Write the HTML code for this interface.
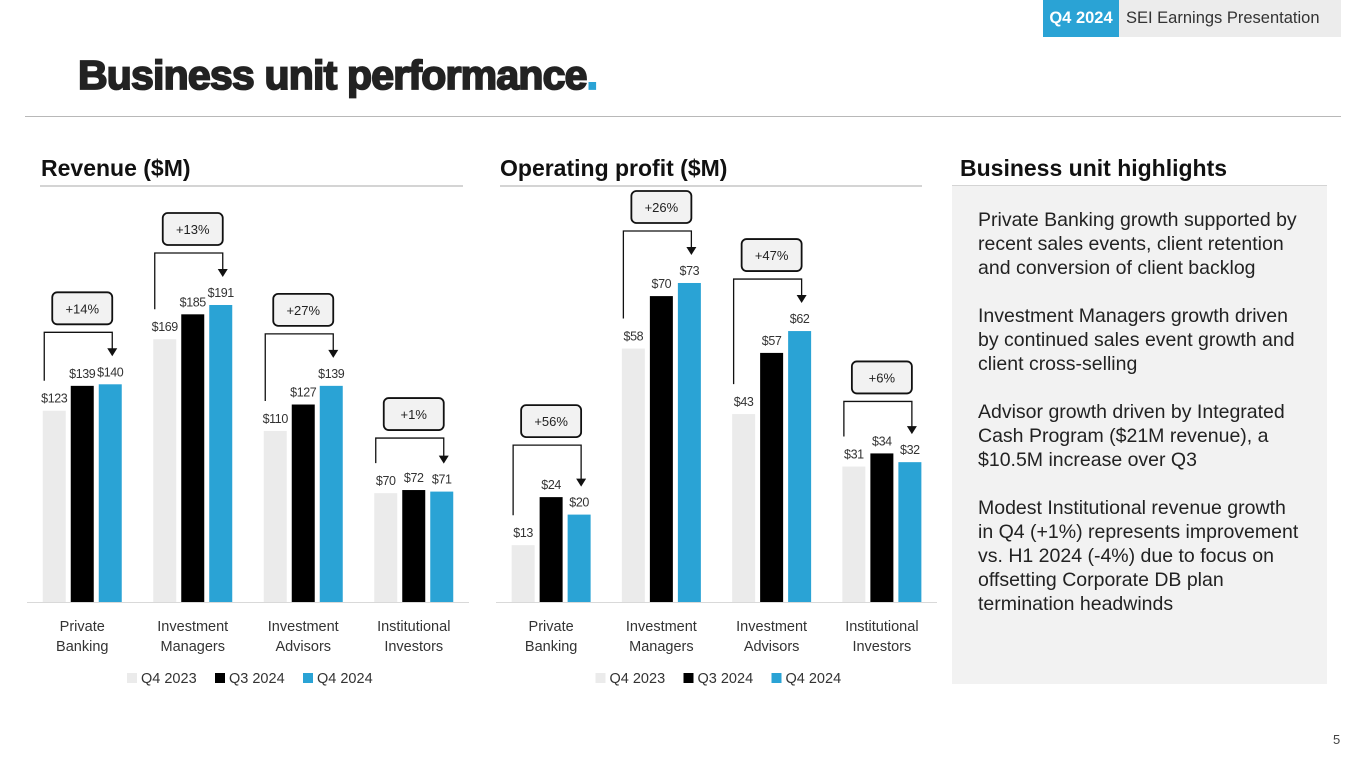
<!DOCTYPE html>
<html><head><meta charset="utf-8">
<style>
body{margin:0;width:1365px;height:768px;background:#fff;font-family:"Liberation Sans",sans-serif;position:relative;overflow:hidden;color:#222}
.abs{position:absolute}
#hdr{left:1043px;top:0;width:298px;height:37px;background:#ececec;font-size:16.5px}
#hdr .q{position:absolute;left:0;top:0;width:76px;height:37px;background:#2aa3d5;color:#fff;font-weight:bold;line-height:37px;text-align:center}
#hdr .t{position:absolute;left:83px;top:0;line-height:37px;color:#333}
#title{left:78px;top:52px;font-size:41px;font-weight:bold;letter-spacing:-0.8px;-webkit-text-stroke:1.8px #222;color:#222}
.sec{font-size:23px;font-weight:bold;color:#111;top:155px}
.line{height:2px;background:#d4d4d4}
#panel{left:952px;top:186px;width:375px;height:498px;background:#f2f2f2}
#panel p{margin:0 0 24px 0;font-size:19.5px;line-height:24px;color:#222;position:relative;left:26px;top:22px;width:328px}
</style></head><body>
<div id="hdr" class="abs"><div class="q">Q4 2024</div><div class="t">SEI Earnings Presentation</div></div>
<div id="title" class="abs">Business unit performance<span style="color:#2aa3d5;-webkit-text-stroke:1.8px #2aa3d5">.</span></div>
<div class="abs line" style="left:25px;top:116px;width:1316px;height:1px;background:#b8b8b8"></div>
<div class="abs sec" style="left:41px">Revenue ($M)</div>
<div class="abs line" style="left:40px;top:185px;width:423px"></div>
<div class="abs sec" style="left:500px">Operating profit ($M)</div>
<div class="abs line" style="left:500px;top:185px;width:422px"></div>
<div class="abs sec" style="left:960px">Business unit highlights</div>
<div class="abs line" style="left:952px;top:185px;width:375px"></div>
<div id="panel" class="abs">
<p>Private Banking growth supported by recent sales events, client retention and conversion of client backlog</p>
<p>Investment Managers growth driven by continued sales event growth and client cross-selling</p>
<p>Advisor growth driven by Integrated Cash Program ($21M revenue), a $10.5M increase over Q3</p>
<p>Modest Institutional revenue growth in Q4 (+1%) represents improvement vs. H1 2024 (-4%) due to focus on offsetting Corporate DB plan termination headwinds</p>
</div>
<div class="abs" style="left:1333px;top:732px;font-size:13px;color:#444">5</div>
<svg class="abs" style="left:0;top:0" width="1365" height="768" id="charts"></svg>
<script>
const categories=[["Private","Banking"],["Investment","Managers"],["Investment","Advisors"],["Institutional","Investors"]];
const seriesNames=["Q4 2023","Q3 2024","Q4 2024"];
const revQ423=[123,169,110,70];
const revQ324=[139,185,127,72];
const revQ424=[140,191,139,71];
const revChange=["+14%","+13%","+27%","+1%"];
const opQ423=[13,58,43,31];
const opQ324=[24,70,57,34];
const opQ424=[20,73,62,32];
const opChange=["+56%","+26%","+47%","+6%"];
const colors=["#ebebeb","#000000","#2aa3d5"];
const NS="http://www.w3.org/2000/svg";
const svg=document.getElementById('charts');
function mk(tag,attrs,parent){const e=document.createElementNS(NS,tag);for(const k in attrs)e.setAttribute(k,attrs[k]);(parent||svg).appendChild(e);return e;}
function chart(name,x0,x1,baseY,scale,series,changes){
  const g=mk('g',{});
  
  
  const step=(x1-x0)/categories.length;
  const bw=23,gap=5;
  const y=v=>baseY-v*scale;
  const axis=mk('line',{x1:x0,x2:x1,y1:baseY+0.5,y2:baseY+0.5,stroke:'#d9d9d9','stroke-width':1},g);
  
  
  categories.forEach((c,i)=>{
    const cx=x0+step*(i+0.5);
    const vals=series.map(s=>s[i]);
    vals.forEach((v,j)=>{
      const bx=cx+(j-1)*(bw+gap)-bw/2;
      const r=mk('rect',{x:bx,y:y(v),width:bw,height:v*scale,fill:colors[j]},g);
      
      
      const t=mk('text',{x:bx+bw/2,y:y(v)-8,'text-anchor':'middle','font-size':12.5,'letter-spacing':'-0.4',fill:'#333'},g);
      t.textContent='$'+v;
      
      
    });
    const lx=cx-(bw+gap), rx=cx+(bw+gap);
    const top=y(Math.max(...vals))-52;
    const p=mk('path',{d:`M${lx-10},${y(vals[0])-30} V${top} H${rx+2} V${y(vals[2])-34}`,fill:'none',stroke:'#111','stroke-width':1.3},g);
    
    
    const ay=y(vals[2])-28;
    const a=mk('polygon',{points:`${rx-3},${ay-8} ${rx+7},${ay-8} ${rx+2},${ay}`,fill:'#111'},g);
    
    
    const bx=mk('rect',{x:cx-30,y:top-40,width:60,height:32,rx:5,fill:'#f2f2f2',stroke:'#111','stroke-width':1.8},g);
    
    
    const bt=mk('text',{x:cx,y:top-19,'text-anchor':'middle','font-size':13,fill:'#222'},g);
    bt.textContent=changes[i];
    
    
    c.forEach((ln,k)=>{
      const ct=mk('text',{x:cx,y:baseY+29+k*20,'text-anchor':'middle','font-size':14.5,fill:'#333'},g);
      ct.textContent=ln;
      
      
    });
  });
  let lx=(x0+x1)/2-121;
  seriesNames.forEach((s,j)=>{
    const r=mk('rect',{x:lx,y:baseY+71,width:10,height:10,fill:colors[j]},g);
    
    
    const t=mk('text',{x:lx+14,y:baseY+81,'font-size':14.5,fill:'#333'},g);
    t.textContent=s;
    
    
    lx+=88;
  });
}
chart('revenue',27,469,602,1.555,[revQ423,revQ324,revQ424],revChange);
chart('profit',496,937,602,4.37,[opQ423,opQ324,opQ424],opChange);
</script>
</body></html>
